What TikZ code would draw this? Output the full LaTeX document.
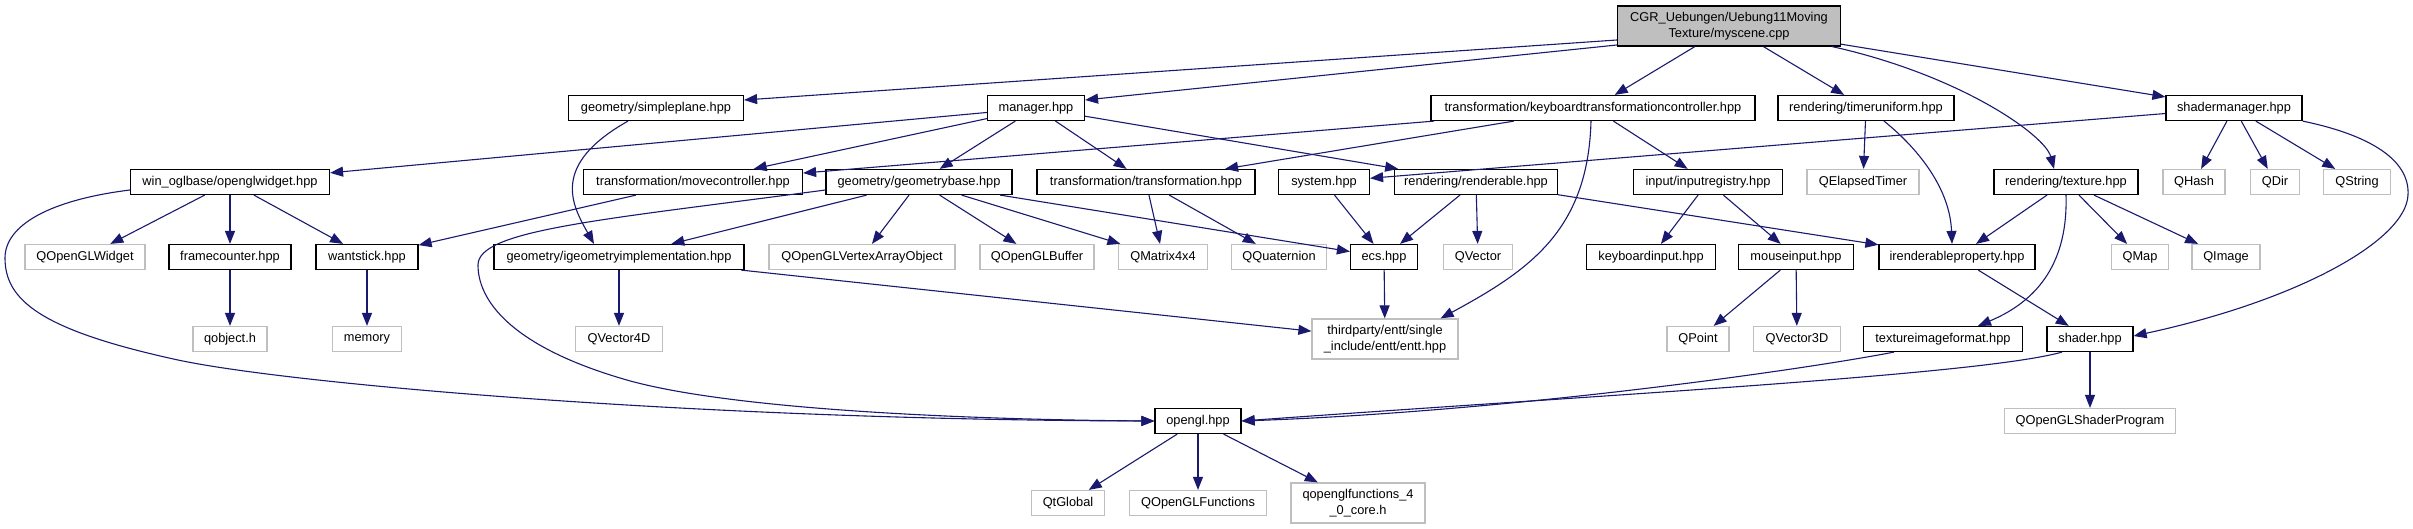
\documentclass[tikz,border=0pt]{standalone}
\usepackage{fontspec}
\setmainfont{Liberation Sans}
\usetikzlibrary{arrows.meta}
\definecolor{edgec}{HTML}{191970}
\definecolor{graybd}{HTML}{BFBFBF}
\definecolor{rootfill}{HTML}{BFBFBF}
\tikzset{
  nd/.style={draw=black, line width=1.2pt, fill=white, inner sep=0pt, minimum height=25pt,
    font=\fontsize{12.8}{15.5}\selectfont, align=center, text=black},
  gnd/.style={nd, draw=graybd},
  wd/.style={minimum width=#1pt},
  tall/.style={minimum height=40pt},
  edge/.style={draw=edgec, line width=1.1pt, -{Triangle[length=13pt,width=10pt]}},
}
\begin{document}
\begin{tikzpicture}[x=1pt,y=-1pt]
\fill[white] (0,0) rectangle (2413,529);
\useasboundingbox (0,0) rectangle (2413,529);
% row 0
\node[nd,wd=223,tall,fill=rootfill] (root) at (1729,26) {CGR\_Uebungen/Uebung11Moving\\Texture/myscene.cpp};
% row 1
\node[nd,wd=175] (simpleplane) at (656,108) {geometry/simpleplane.hpp};
\node[nd,wd=97] (manager) at (1036,108) {manager.hpp};
\node[nd,wd=324] (keyboard) at (1593,108) {transformation/keyboardtransformationcontroller.hpp};
\node[nd,wd=176] (timeruniform) at (1866,108) {rendering/timeruniform.hpp};
\node[nd,wd=136] (shadermanager) at (2234,108) {shadermanager.hpp};
% row 2
\node[nd,wd=199] (openglwidget) at (230,182) {win\_oglbase/openglwidget.hpp};
\node[nd,wd=219] (movecontroller) at (693,182) {transformation/movecontroller.hpp};
\node[nd,wd=186] (geometrybase) at (919,182) {geometry/geometrybase.hpp};
\node[nd,wd=218] (transformation) at (1146,182) {transformation/transformation.hpp};
\node[nd,wd=91] (system) at (1324,182) {system.hpp};
\node[nd,wd=163] (renderable) at (1476,182) {rendering/renderable.hpp};
\node[nd,wd=149] (inputregistry) at (1708,182) {input/inputregistry.hpp};
\node[gnd,wd=112] (qelapsed) at (1863,182) {QElapsedTimer};
\node[nd,wd=144] (texture) at (2066,182) {rendering/texture.hpp};
\node[gnd,wd=62] (qhash) at (2194,182) {QHash};
\node[gnd,wd=49] (qdir) at (2275,182) {QDir};
\node[gnd,wd=67] (qstring) at (2357,182) {QString};
% row 3
\node[gnd,wd=120] (qglwidget) at (85,257) {QOpenGLWidget};
\node[nd,wd=122] (framecounter) at (230,257) {framecounter.hpp};
\node[nd,wd=102] (wantstick) at (367,257) {wantstick.hpp};
\node[nd,wd=250] (igeometry) at (619,257) {geometry/igeometryimplementation.hpp};
\node[gnd,wd=186] (qvao) at (862,257) {QOpenGLVertexArrayObject};
\node[gnd,wd=114] (qbuffer) at (1037,257) {QOpenGLBuffer};
\node[gnd,wd=89] (qmatrix) at (1163,257) {QMatrix4x4};
\node[gnd,wd=95] (qquat) at (1279,257) {QQuaternion};
\node[nd,wd=67] (ecs) at (1384,257) {ecs.hpp};
\node[gnd,wd=69] (qvector) at (1478,257) {QVector};
\node[nd,wd=129] (keyboardinput) at (1651,257) {keyboardinput.hpp};
\node[nd,wd=115] (mouseinput) at (1796,257) {mouseinput.hpp};
\node[nd,wd=156] (irenderable) at (1957,257) {irenderableproperty.hpp};
\node[gnd,wd=57] (qmap) at (2140,257) {QMap};
\node[gnd,wd=68] (qimage) at (2226,257) {QImage};
% row 4
\node[gnd,wd=74] (qobject) at (230,339) {qobject.h};
\node[gnd,wd=69] (memory) at (367,339) {memory};
\node[gnd,wd=87] (qvector4d) at (619,339) {QVector4D};
\node[gnd,wd=146,tall] (entt) at (1385,339) {thirdparty/entt/single\\\_include/entt/entt.hpp};
\node[gnd,wd=62] (qpoint) at (1698,339) {QPoint};
\node[gnd,wd=87] (qvector3d) at (1797,339) {QVector3D};
\node[nd,wd=159] (texfmt) at (1943,339) {textureimageformat.hpp};
\node[nd,wd=86] (shader) at (2090,339) {shader.hpp};
% row 5
\node[nd,wd=86] (opengl) at (1198,421) {opengl.hpp};
\node[gnd,wd=171] (qshaderprog) at (2090,421) {QOpenGLShaderProgram};
% row 6
\node[gnd,wd=73] (qtglobal) at (1068,503) {QtGlobal};
\node[gnd,wd=137] (qglfunc) at (1198,503) {QOpenGLFunctions};
\node[gnd,wd=134,tall] (qglfunc40) at (1358,503) {qopenglfunctions\_4\\\_0\_core.h};

% edges from root
\draw[edge] ([yshift=-14pt]root.west) -- ([yshift=8pt]simpleplane.east);
\draw[edge] ([yshift=-19pt]root.west) -- ([yshift=8pt]manager.east);
\draw[edge] (root) -- (keyboard);
\draw[edge] (root) -- (timeruniform);
\draw[edge] (root) -- (shadermanager);
\draw[edge] ([xshift=-9pt]root.south east) .. controls (1960,75) and (2045,135) .. ([xshift=-12pt]texture.north);
% simpleplane
\draw[edge] ([xshift=-28pt]simpleplane.south) .. controls (550,165) and (572,205) .. ([xshift=-25pt]igeometry.north);
% manager
\draw[edge] (manager) -- (openglwidget);
\draw[edge] (manager) -- (movecontroller);
\draw[edge] (manager) -- (geometrybase);
\draw[edge] (manager) -- (transformation);
\draw[edge] (manager) -- (renderable);
% keyboard controller
\draw[edge] (keyboard) -- (movecontroller);
\draw[edge] (keyboard) -- (transformation);
\draw[edge] (keyboard) -- (inputregistry);
\draw[edge] ([xshift=-2pt]keyboard.south) .. controls (1588,230) and (1530,270) .. ([xshift=-18pt]entt.north east);
% timeruniform
\draw[edge] (timeruniform) -- (qelapsed);
\draw[edge] ([xshift=18pt]timeruniform.south) .. controls (1920,150) and (1950,190) .. ([xshift=-5pt]irenderable.north);
% shadermanager
\draw[edge] (shadermanager) -- (system);
\draw[edge] (shadermanager) -- (qhash);
\draw[edge] (shadermanager) -- (qdir);
\draw[edge] (shadermanager) -- (qstring);
\draw[edge] (shadermanager.south east) .. controls (2370,135) and (2410,160) .. (2408,195)
  .. controls (2406,240) and (2300,300) .. ([yshift=3pt]shader.east);
% openglwidget
\draw[edge] (openglwidget) -- (qglwidget);
\draw[edge] (openglwidget) -- (framecounter);
\draw[edge] (openglwidget) -- (wantstick);
\draw[edge] ([yshift=-8pt]openglwidget.west) .. controls (50,200) and (5,225) .. (5,258)
  .. controls (5,300) and (40,330) .. (178,360)
  .. controls (290,384) and (700,420) .. (opengl.west);
% movecontroller
\draw[edge] (movecontroller) -- (wantstick);
% geometrybase
\draw[edge] (geometrybase) -- (igeometry);
\draw[edge] (geometrybase) -- (qvao);
\draw[edge] (geometrybase) -- (qbuffer);
\draw[edge] (geometrybase) -- (qmatrix);
\draw[edge] (geometrybase) -- (ecs);
\draw[edge] ([yshift=-8pt]geometrybase.west) .. controls (600,220) and (478,230) .. (478,265)
  .. controls (478,300) and (510,345) .. (620,378)
  .. controls (730,412) and (1000,420) .. (opengl.west);
% transformation
\draw[edge] (transformation) -- (qmatrix);
\draw[edge] (transformation) -- (qquat);
% system, renderable
\draw[edge] (system) -- (ecs);
\draw[edge] (renderable) -- (ecs);
\draw[edge] (renderable) -- (qvector);
\draw[edge] (renderable) -- (irenderable);
% inputregistry
\draw[edge] (inputregistry) -- (keyboardinput);
\draw[edge] (inputregistry) -- (mouseinput);
% texture
\draw[edge] (texture) -- (irenderable);
\draw[edge] (texture) -- (qmap);
\draw[edge] (texture) -- (qimage);
\draw[edge] (texture.south) .. controls (2068,260) and (2040,300) .. ([xshift=35pt]texfmt.north);
% row 3 sources
\draw[edge] (framecounter) -- (qobject);
\draw[edge] (wantstick) -- (memory);
\draw[edge] (igeometry) -- (qvector4d);
\draw[edge] (igeometry) -- (entt);
\draw[edge] (ecs) -- (entt);
\draw[edge] (mouseinput) -- (qpoint);
\draw[edge] (mouseinput) -- (qvector3d);
\draw[edge] (irenderable) -- (shader);
% row 4 sources
\draw[edge] ([xshift=-49pt]texfmt.south) .. controls (1790,372) and (1500,412) .. (opengl.east);
\draw[edge] ([xshift=-28pt]shader.south) .. controls (1980,375) and (1600,395) .. (opengl.east);
\draw[edge] (shader) -- (qshaderprog);
% opengl
\draw[edge] (opengl) -- (qtglobal);
\draw[edge] (opengl) -- (qglfunc);
\draw[edge] (opengl) -- (qglfunc40);
\end{tikzpicture}
\end{document}
